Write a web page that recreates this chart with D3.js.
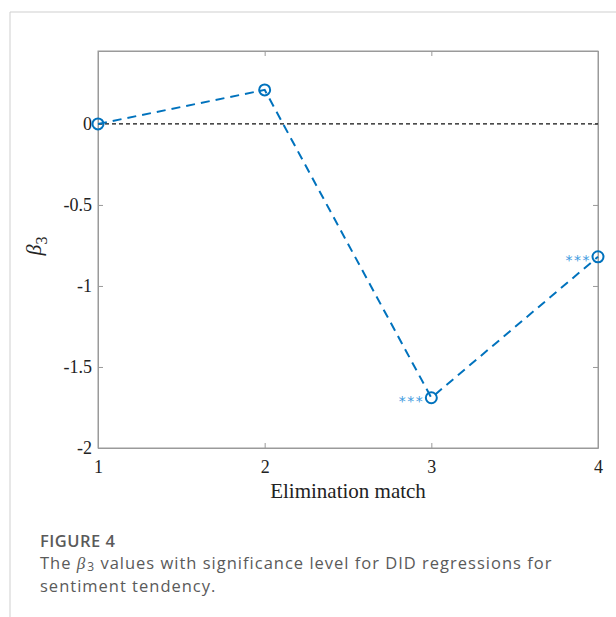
<!DOCTYPE html>
<html>
<head>
<meta charset="utf-8">
<script src="https://cdn.jsdelivr.net/npm/d3@7"></script>
<style>
  html, body { margin: 0; padding: 0; background: #fff; }
  svg { display: block; }
</style>
</head>
<body>
<div id="chart"></div>
<script>
// values
const matches = [1, 2, 3, 4];
const beta3 = [0, 0.21, -1.69, -0.82];
const stars = ["", "", "***", "***"];
const xTicks = [1, 2, 3, 4];
const yTicks = [0, -0.5, -1, -1.5, -2];

const W = 616, H = 617;
const margin = { top: 51, right: 18, bottom: 169, left: 98 };
const plotW = W - margin.left - margin.right;
const plotH = H - margin.top - margin.bottom;

const svg = d3.select("#chart").append("svg")
    .attr("width", W)
    .attr("height", H);

// card border (left + top)
svg.append("path")
    .attr("d", `M10,${H} L10,12 L${W},12`)
    .attr("fill", "none")
    .attr("stroke", "#cfcfcf")
    .attr("stroke-width", 1);

const g = svg.append("g")
    .attr("transform", `translate(${margin.left},${margin.top})`);

const x = d3.scaleLinear().domain([1, 4]).range([0, plotW]);
const y = d3.scaleLinear().domain([-2, 0.45]).range([plotH, 0]);

const axisColor = "#9a9a9a";
const serif = "'Liberation Serif', 'Times New Roman', serif";
// MATLAB prints plain hyphens for negatives
const fmtY = d => d === 0 ? "0" : String(d);

// box
g.append("rect")
    .attr("x", 0).attr("y", 0)
    .attr("width", plotW).attr("height", plotH)
    .attr("fill", "none")
    .attr("stroke", axisColor)
    .attr("stroke-width", 1);

// inward ticks, MATLAB style
const tickLen = 5;
const xAxis = g.append("g")
    .attr("transform", `translate(0,${plotH})`)
    .call(d3.axisBottom(x).tickValues(xTicks).tickSizeInner(-tickLen).tickSizeOuter(0).tickPadding(9).tickFormat(d3.format("d")));
const xAxisTop = g.append("g")
    .call(d3.axisTop(x).tickValues(xTicks).tickSizeInner(-tickLen).tickSizeOuter(0).tickFormat(""));
const yAxis = g.append("g")
    .call(d3.axisLeft(y).tickValues(yTicks).tickSizeInner(-tickLen).tickSizeOuter(0).tickPadding(6).tickFormat(fmtY));
const yAxisRight = g.append("g")
    .attr("transform", `translate(${plotW},0)`)
    .call(d3.axisRight(y).tickValues(yTicks).tickSizeInner(-tickLen).tickSizeOuter(0).tickFormat(""));

[xAxis, xAxisTop, yAxis, yAxisRight].forEach(a => {
    a.select(".domain").attr("stroke", axisColor);
    a.selectAll(".tick line").attr("stroke", axisColor);
    a.selectAll("text")
        .attr("fill", "#222")
        .style("font-family", serif)
        .style("font-size", "18px");
});
xAxis.selectAll("text").attr("dy", "0.9em");

// zero reference line
g.append("line")
    .attr("x1", x(1)).attr("x2", x(4))
    .attr("y1", y(0)).attr("y2", y(0))
    .attr("stroke", "#111")
    .attr("stroke-width", 1.2)
    .attr("stroke-dasharray", "4,3");

const blue = "#0072BD";
const data = matches.map((m, i) => ({ m, v: beta3[i], s: stars[i] }));

g.append("path")
    .datum(data)
    .attr("fill", "none")
    .attr("stroke", blue)
    .attr("stroke-width", 2)
    .attr("stroke-dasharray", "9,6")
    .attr("d", d3.line().x(d => x(d.m)).y(d => y(d.v)));

g.selectAll("circle.pt")
    .data(data)
    .join("circle")
    .attr("class", "pt")
    .attr("cx", d => x(d.m))
    .attr("cy", d => y(d.v))
    .attr("r", 5.5)
    .attr("fill", "none")
    .attr("stroke", blue)
    .attr("stroke-width", 2);

g.selectAll("text.sig")
    .data(data.filter(d => d.s))
    .join("text")
    .attr("class", "sig")
    .attr("x", d => x(d.m) - 7)
    .attr("y", d => y(d.v) + 8)
    .attr("text-anchor", "end")
    .attr("fill", "#3d9ae0")
    .style("font-family", "'DejaVu Sans', sans-serif")
    .style("font-size", "14px")
    .style("letter-spacing", "1.5px")
    .text(d => d.s);

// axis titles
svg.append("text")
    .attr("x", margin.left + plotW / 2)
    .attr("y", 498)
    .attr("text-anchor", "middle")
    .attr("fill", "#222")
    .style("font-family", serif)
    .style("font-size", "21px")
    .text("Elimination match");

const yl = svg.append("text")
    .attr("transform", "translate(41,246) rotate(-90)")
    .attr("text-anchor", "middle")
    .attr("fill", "#222")
    .style("font-family", serif)
    .style("font-size", "22px");
yl.append("tspan").style("font-style", "italic").text("β");
yl.append("tspan").attr("dy", 6).style("font-size", "16px").text("3");

// caption
const cap = "'Open Sans', 'Noto Sans', sans-serif";
svg.append("text")
    .attr("x", 40).attr("y", 547)
    .attr("fill", "#5a5a5a")
    .style("font-family", cap)
    .style("font-size", "16.5px")
    .style("font-weight", 600)
    .style("letter-spacing", "0.5px")
    .text("FIGURE 4");

const c1 = svg.append("text")
    .attr("x", 40).attr("y", 569)
    .attr("fill", "#5a5a5a")
    .style("font-family", cap)
    .style("font-size", "16.5px")
    .style("letter-spacing", "1px");
c1.append("tspan").text("The ");
c1.append("tspan").style("font-style", "italic").style("font-family", serif).style("font-size", "17px").text("β");
c1.append("tspan").attr("dx", 1).attr("dy", 2).style("font-size", "12px").text("3");
c1.append("tspan").attr("dy", -2).text(" values with significance level for DID regressions for");

svg.append("text")
    .attr("x", 40).attr("y", 592)
    .attr("fill", "#5a5a5a")
    .style("font-family", cap)
    .style("font-size", "16.5px")
    .style("letter-spacing", "1px")
    .text("sentiment tendency.");
</script>
</body>
</html>
